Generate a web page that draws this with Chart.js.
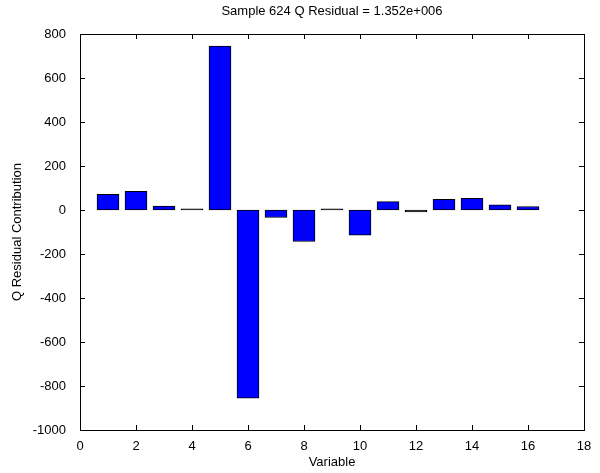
<!DOCTYPE html>
<html>
<head>
<meta charset="utf-8">
<script src="https://cdn.jsdelivr.net/npm/chart.js@4.4.1/dist/chart.umd.min.js"></script>
<style>
  html, body { margin: 0; padding: 0; background: #fff; }
  #wrap { width: 600px; height: 473px; }
</style>
</head>
<body>
<div id="wrap"><canvas id="myChart" width="600" height="473"></canvas></div>
<script>
const variables = [1, 2, 3, 4, 5, 6, 7, 8, 9, 10, 11, 12, 13, 14, 15, 16];
const contributions = [71, 85, 18, 5, 745, -855, -34, -143, 5, -114, 38, -9, 48, 53, 23, 16];
const xTicks = [0, 2, 4, 6, 8, 10, 12, 14, 16, 18];
const yTicks = [-1000, -800, -600, -400, -200, 0, 200, 400, 600, 800];

const font = { family: "'Liberation Sans', Arial, sans-serif", size: 13 };

// matlab style box with ticks pointing inward on all four sides
const boxTicks = {
    id: 'boxTicks',
    afterDraw(chart) {
        const ctx = chart.ctx;
        const a = chart.chartArea;
        const xs = chart.scales.x, ys = chart.scales.y;
        const len = 5;
        ctx.save();
        ctx.strokeStyle = '#000';
        ctx.lineWidth = 1;
        ctx.beginPath();
        xTicks.forEach(v => {
            const px = Math.round(xs.getPixelForValue(v)) + 0.5;
            ctx.moveTo(px, a.bottom); ctx.lineTo(px, a.bottom - len);
            ctx.moveTo(px, a.top); ctx.lineTo(px, a.top + len);
        });
        yTicks.forEach(v => {
            const py = Math.round(ys.getPixelForValue(v)) + 0.5;
            ctx.moveTo(a.left, py); ctx.lineTo(a.left + len, py);
            ctx.moveTo(a.right, py); ctx.lineTo(a.right - len, py);
        });
        ctx.stroke();
        ctx.strokeRect(Math.round(a.left) + 0.5, Math.round(a.top) + 0.5,
            Math.round(a.right - a.left), Math.round(a.bottom - a.top));
        ctx.restore();
    }
};

new Chart("myChart", {
    type: "bar",
    data: {
        datasets: [{
            data: variables.map((v, i) => ({ x: v, y: contributions[i] })),
            // bars only a pixel or two tall show up as a black line
            backgroundColor: c => Math.abs(contributions[c.dataIndex]) < 10 ? "#000000" : "#0000ff",
            borderColor: "#000000",
            borderWidth: 1,
            borderSkipped: false,
            barThickness: 22
        }]
    },
    options: {
        responsive: false,
        animation: false,
        layout: { padding: { right: 16, left: 0, bottom: 0, top: 0 } },
        plugins: {
            legend: { display: false },
            tooltip: { enabled: false },
            title: {
                display: true,
                fullSize: false,
                text: "Sample 624 Q Residual = 1.352e+006",
                color: "#000",
                font: { ...font, weight: 'normal' },
                padding: { top: 4, bottom: 14.4 }
            }
        },
        scales: {
            x: {
                type: 'linear',
                offset: false,
                min: 0,
                max: 18,
                grid: { display: false, offset: false },
                border: { display: false },
                ticks: {
                    stepSize: 2,
                    color: "#000",
                    font: font,
                    padding: 1,
                    maxRotation: 0
                },
                title: {
                    display: true,
                    text: "Variable",
                    color: "#000",
                    font: font,
                    padding: { top: 0, bottom: 3 }
                },
                afterFit(scale) { scale.height = 43; }
            },
            y: {
                min: -1000,
                max: 800,
                grid: { display: false },
                border: { display: false },
                ticks: {
                    stepSize: 200,
                    color: "#000",
                    font: font,
                    padding: 6,
                    callback: v => String(v)
                },
                title: {
                    display: true,
                    text: "Q Residual Contribution",
                    color: "#000",
                    font: font,
                    padding: { top: 10, bottom: 0 }
                },
                afterFit(scale) { scale.width = 80; }
            }
        }
    },
    plugins: [boxTicks]
});
</script>
</body>
</html>
